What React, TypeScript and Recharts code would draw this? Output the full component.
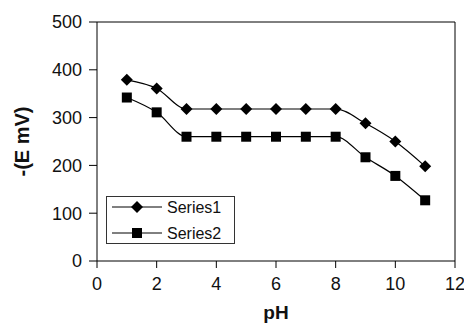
import { LineChart, Line, XAxis, YAxis, ReferenceLine } from "recharts";

const phValues = [1, 2, 3, 4, 5, 6, 7, 8, 9, 10, 11];
const series1 = [379, 361, 318, 318, 318, 318, 318, 318, 288, 250, 198];
const series2 = [342, 311, 260, 260, 260, 260, 260, 260, 217, 178, 127];
const xTicks = [0, 2, 4, 6, 8, 10, 12];
const yTicks = [0, 100, 200, 300, 400, 500];
const seriesNames = ["Series1", "Series2"];

const data = phValues.map((ph, i) => ({ ph, s1: series1[i], s2: series2[i] }));

const font = "'Liberation Sans', Arial, sans-serif";

const Diamond = (props: any) => {
  const { cx, cy } = props;
  if (cx == null || cy == null) return null;
  const r = 6;
  return (
    <path
      d={`M${cx},${cy - r}L${cx + r},${cy}L${cx},${cy + r}L${cx - r},${cy}Z`}
      fill="#000"
      stroke="none"
    />
  );
};

const Square = (props: any) => {
  const { cx, cy } = props;
  if (cx == null || cy == null) return null;
  const r = 5;
  return <rect x={cx - r} y={cy - r} width={r * 2} height={r * 2} fill="#000" />;
};

// legend sits inside the plot, lower left, like the excel original
function ChartLegend() {
  return (
    <svg
      width={464}
      height={324}
      style={{ position: "absolute", left: 0, top: 0, pointerEvents: "none" }}
    >
      <rect x={106.5} y={196.5} width={128} height={47} fill="#fff" stroke="#333" />
      {seriesNames.map((name, i) => {
        const y = 207 + i * 26;
        return (
          <g key={name}>
            <line x1={112} y1={y} x2={162} y2={y} stroke="#000" />
            {i === 0 ? (
              <path d={`M137,${y - 6}L143,${y}L137,${y + 6}L131,${y}Z`} fill="#000" />
            ) : (
              <rect x={132} y={y - 5} width={10} height={10} fill="#000" />
            )}
            <text x={167} y={y + 6} fontSize={16} fontFamily={font} fill="#111">
              {name}
            </text>
          </g>
        );
      })}
    </svg>
  );
}

export default function App() {
  return (
    <div style={{ position: "absolute", left: 0, top: 0, width: 464, height: 324, background: "#fff" }}>
      <LineChart
        width={464}
        height={324}
        data={data}
        margin={{ top: 22, right: 9, bottom: 0, left: 0 }}
      >
        <XAxis
          dataKey="ph"
          type="number"
          domain={[0, 12]}
          ticks={xTicks}
          height={63}
          stroke="#000"
          tickSize={7}
          tickMargin={9}
          tick={{ fill: "#111", fontSize: 18, fontFamily: font }}
          label={{
            value: "pH",
            position: "insideBottom",
            offset: 5,
            style: { fill: "#111", fontSize: 19, fontWeight: "bold", fontFamily: font },
          }}
        />
        <YAxis
          type="number"
          domain={[0, 500]}
          ticks={yTicks}
          width={97}
          stroke="#000"
          tickSize={8}
          tickMargin={7}
          tick={{ fill: "#111", fontSize: 18, fontFamily: font }}
          label={{
            value: "-(E mV)",
            angle: -90,
            position: "insideLeft",
            offset: 22,
            style: { fill: "#111", fontSize: 20, fontWeight: "bold", fontFamily: font, textAnchor: "middle" },
          }}
        />
        <ReferenceLine y={500} stroke="#000" />
        <ReferenceLine x={12} stroke="#000" />
        <Line
          type="monotone"
          dataKey="s1"
          name="Series1"
          stroke="#000"
          strokeWidth={1.2}
          dot={<Diamond />}
          isAnimationActive={false}
        />
        <Line
          type="monotone"
          dataKey="s2"
          name="Series2"
          stroke="#000"
          strokeWidth={1.2}
          dot={<Square />}
          isAnimationActive={false}
        />
      </LineChart>
      <ChartLegend />
    </div>
  );
}
